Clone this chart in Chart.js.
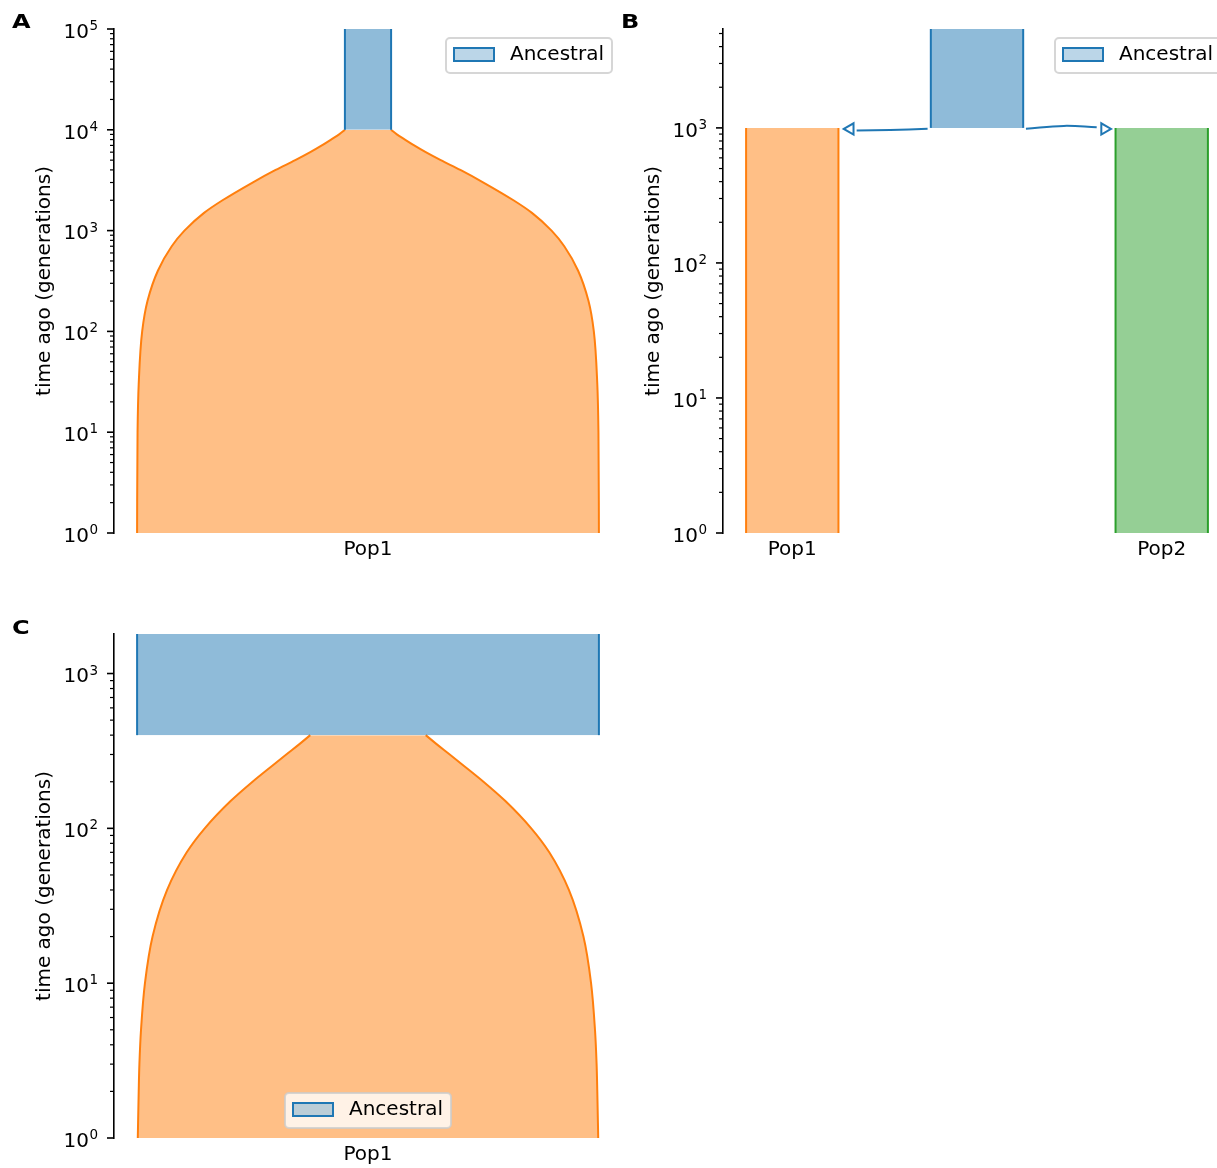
<!DOCTYPE html>
<html>
<head>
<meta charset="utf-8">
<title>Deme histories</title>
<script src="https://cdn.jsdelivr.net/npm/chart.js@4.4.1/dist/chart.umd.min.js"></script>
<style>
  html, body { margin: 0; padding: 0; background: #fff; width: 1217px; height: 1168px; overflow: hidden; }
  canvas.panel { position: absolute; }
  .tag { position: absolute; font: bold 20px 'DejaVu Sans', sans-serif; line-height: 20px; color: #000; transform: scaleX(1.2); transform-origin: left top; }
</style>
</head>
<body>
<canvas id="chartA" class="panel" width="640" height="585" style="left:0;top:0"></canvas>
<canvas id="chartB" class="panel" width="640" height="585" style="left:609px;top:0"></canvas>
<canvas id="chartC" class="panel" width="640" height="578" style="left:0;top:590px"></canvas>
<div class="tag" style="left:12px;top:11px">A</div>
<div class="tag" style="left:621px;top:11px">B</div>
<div class="tag" style="left:12px;top:617px">C</div>
<script>
// ---------- Panel A: one deme growing out of an ancestral population ----------
const timesA      = [1, 10, 30, 100, 200, 400, 700, 1000, 1500, 2000, 3000, 4000, 5000, 6000, 7000, 8000, 9000, 10000];
const pop1SizesA  = [10000, 9980, 9930, 9780, 9550, 9100, 8500, 7950, 7100, 6300, 5000, 4000, 3150, 2500, 2000, 1600, 1250, 1000];
const ancestralA  = { size: 1000, start: 10000, end: 100000 };

// ---------- Panel B: ancestral split into two constant-size demes ----------
const demeNamesB   = ['Pop1', 'Pop2'];
const demeCentersB = [0, 4000];
const demeSizesB   = [1000, 1000];
const demeTimesB   = [1, 1000];
const ancestralB   = { center: 2000, size: 1000, start: 1000, end: 5400 };

// ---------- Panel C: bottleneck then exponential recovery ----------
const timesC      = [1, 2, 3, 5, 10, 20, 40, 70, 100, 150, 200, 250, 300, 350, 400];
const pop1SizesC  = [9970, 9930, 9900, 9830, 9660, 9330, 8700, 7850, 7070, 5950, 5000, 4200, 3540, 2970, 2500];
const ancestralC  = { size: 10000, start: 400, end: 1800 };

const legendLabels = ['Ancestral'];

// ---------- styling ----------
const BLUE = '#1f77b4', ORANGE = '#ff7f0e', GREEN = '#2ca02c';
function rgba(hex, a) {
  const n = parseInt(hex.slice(1), 16);
  return `rgba(${n >> 16},${(n >> 8) & 255},${n & 255},${a})`;
}

Chart.defaults.font.family = "'DejaVu Sans', sans-serif";
Chart.defaults.font.size = 20;
Chart.defaults.color = '#000';

const SUP = { '0': '\u2070', '1': '\u00b9', '2': '\u00b2', '3': '\u00b3', '4': '\u2074', '5': '\u2075', '6': '\u2076', '7': '\u2077', '8': '\u2078', '9': '\u2079', '-': '\u207b' };
function isPow10(v) {
  const e = Math.log10(v);
  return Math.abs(e - Math.round(e)) < 1e-9;
}
function powLabel(v) {
  if (!isPow10(v)) return '';
  return '10' + String(Math.round(Math.log10(v))).split('').map(c => SUP[c]).join('');
}
function logTicks(min, max) {
  const out = [];
  for (let e = Math.floor(Math.log10(min)); e <= Math.ceil(Math.log10(max)); e++) {
    for (let m = 1; m <= 9; m++) {
      const v = m * Math.pow(10, e);
      if (v >= min * (1 - 1e-9) && v <= max * (1 + 1e-9)) out.push(v);
    }
  }
  return out;
}

// Left and right outline of a deme tube; the left one fills across to the right one.
function tube(times, sizes, center, color) {
  const left = times.map((t, i) => ({ x: center - sizes[i] / 2, y: t }));
  const right = times.map((t, i) => ({ x: center + sizes[i] / 2, y: t }));
  const common = { borderColor: color, backgroundColor: rgba(color, 0.5), borderWidth: 2, pointRadius: 0, cubicInterpolationMode: 'monotone' };
  return [
    Object.assign({ data: left, fill: '+1' }, common),
    Object.assign({ data: right, fill: false }, common)
  ];
}
function block(center, size, t0, t1, color) {
  return tube([t0, t1], [size, size], center, color);
}

// Major / minor tick marks on the time axis, with power-of-ten labels
// written as a base and a raised exponent.
const axisTicks = {
  id: 'axisTicks',
  afterDraw(chart) {
    const s = chart.scales.y, ctx = chart.ctx, x0 = chart.chartArea.left;
    ctx.save();
    ctx.strokeStyle = '#000';
    ctx.fillStyle = '#000';
    s.ticks.forEach(t => {
      const major = isPow10(t.value);
      const y = s.getPixelForValue(t.value);
      ctx.lineWidth = major ? 1.6 : 1.2;
      ctx.beginPath();
      ctx.moveTo(x0 - (major ? 7 : 4), y);
      ctx.lineTo(x0, y);
      ctx.stroke();
      if (major) {
        const exp = String(Math.round(Math.log10(t.value)));
        ctx.textBaseline = 'alphabetic';
        ctx.textAlign = 'right';
        ctx.font = "13.5px 'DejaVu Sans', sans-serif";
        const ew = ctx.measureText(exp).width;
        const expRight = x0 - 16;
        ctx.fillText(exp, expRight, y + 1);
        ctx.font = "20px 'DejaVu Sans', sans-serif";
        ctx.fillText('10', expRight - ew - 0.5, y + 8.8);
      }
    });
    ctx.restore();
  }
};

// Legend box for the ancestral deme, placed inside the plot area.
const demeLegend = {
  id: 'demeLegend',
  afterDraw(chart, args, opts) {
    const { ctx, chartArea: a } = chart;
    const w = 166, h = 35;
    let x, y;
    if (opts.loc === 'lower center') { x = (a.left + a.right) / 2 - w / 2; y = a.bottom - 10 - h; }
    else { x = a.right - 10 - w; y = a.top + 9; }
    ctx.save();
    ctx.beginPath();
    ctx.roundRect(x, y, w, h, 4);
    ctx.fillStyle = 'rgba(255,255,255,0.8)';
    ctx.fill();
    ctx.lineWidth = 2;
    ctx.strokeStyle = 'rgba(204,204,204,0.8)';
    ctx.stroke();
    ctx.beginPath();
    ctx.rect(x + 8, y + 10, 40, 13);
    ctx.fillStyle = rgba(opts.color, 0.3);
    ctx.fill();
    ctx.lineWidth = 2;
    ctx.strokeStyle = opts.color;
    ctx.stroke();
    ctx.fillStyle = '#000';
    ctx.font = "20px 'DejaVu Sans', sans-serif";
    ctx.textBaseline = 'middle';
    ctx.textAlign = 'left';
    ctx.fillText(opts.label, x + 64, y + 17);
    ctx.restore();
  }
};

function panel(id, p) {
  return new Chart(document.getElementById(id), {
    type: 'line',
    data: { datasets: p.datasets },
    options: {
      indexAxis: 'y',
      responsive: false,
      animation: false,
      events: [],
      layout: { padding: { left: 0, top: p.top, right: p.canvasW - 622, bottom: 0 } },
      plugins: {
        legend: { display: false },
        tooltip: { enabled: false },
        demeLegend: { loc: p.legendLoc, label: legendLabels[0], color: BLUE }
      },
      scales: {
        x: {
          type: 'linear', min: p.xMin, max: p.xMax,
          grid: { display: false }, border: { display: false },
          afterFit: s => { s.height = p.xAxisH; },
          afterBuildTicks: s => { s.ticks = p.xTicks.map(v => ({ value: v })); },
          ticks: { autoSkip: false, padding: -3, maxRotation: 0, callback: v => { const i = p.xTicks.indexOf(v); return i >= 0 ? p.xLabels[i] : ''; } }
        },
        y: {
          type: 'logarithmic', min: 1, max: p.tMax, position: 'left',
          afterFit: s => { s.width = 114; },
          afterBuildTicks: s => { s.ticks = logTicks(1, p.tMax).map(v => ({ value: v })); },
          ticks: { display: false, autoSkip: false, callback: v => powLabel(v) },
          grid: { display: true, drawOnChartArea: false, drawTicks: false },
          border: { display: true, color: '#000', width: 1.6 },
          title: { display: true, text: 'time ago (generations)', padding: { top: 33, bottom: 0 }, font: { size: 20 } }
        }
      }
    },
    plugins: [axisTicks, demeLegend]
  });
}

// ---------- A ----------
panel('chartA', {
  canvasW: 640, top: 29, xAxisH: 52, xMin: -5500, xMax: 5500, tMax: ancestralA.end,
  xTicks: [0], xLabels: ['Pop1'], legendLoc: 'upper right',
  datasets: [
    ...block(0, ancestralA.size, ancestralA.start, ancestralA.end, BLUE),
    ...tube(timesA, pop1SizesA, 0, ORANGE)
  ]
});

// ---------- B ----------
const splitB = ancestralB.start;
const pop1Right = demeCentersB[0] + demeSizesB[0] / 2;
const pop2Left = demeCentersB[1] - demeSizesB[1] / 2;
const ancLeft = ancestralB.center - ancestralB.size / 2;
const ancRight = ancestralB.center + ancestralB.size / 2;
const arrowStyle = { borderColor: BLUE, borderWidth: 2, pointRadius: 0, fill: false, tension: 0.4 };
panel('chartB', {
  canvasW: 640, top: 29, xAxisH: 52, xMin: -750, xMax: 4750, tMax: ancestralB.end,
  xTicks: demeCentersB, xLabels: demeNamesB, legendLoc: 'upper right',
  datasets: [
    ...block(ancestralB.center, ancestralB.size, ancestralB.start, ancestralB.end, BLUE),
    ...block(demeCentersB[0], demeSizesB[0], demeTimesB[0], demeTimesB[1], ORANGE),
    ...block(demeCentersB[1], demeSizesB[1], demeTimesB[0], demeTimesB[1], GREEN),
    Object.assign({ data: [
      { x: ancLeft - 35, y: splitB * 0.985 },
      { x: (ancLeft + pop1Right) / 2 + 60, y: splitB * 0.965 },
      { x: pop1Right + 197, y: splitB * 0.955 }
    ] }, arrowStyle),
    Object.assign({ data: [
      { x: ancRight + 30, y: splitB * 0.985 },
      { x: (ancRight + pop2Left) / 2 - 60, y: splitB * 1.035 },
      { x: pop2Left - 204, y: splitB * 1.01 }
    ] }, arrowStyle),
    {
      data: [{ x: pop1Right + 128, y: splitB * 0.983 }, { x: pop2Left - 119, y: splitB * 0.983 }],
      showLine: false, pointStyle: 'triangle', pointRadius: 6.5, pointRotation: [-90, 90],
      pointBorderColor: BLUE, pointBackgroundColor: '#fff', pointBorderWidth: 2
    }
  ]
});

// ---------- C ----------
panel('chartC', {
  canvasW: 640, top: 44, xAxisH: 30, xMin: -5500, xMax: 5500, tMax: ancestralC.end,
  xTicks: [0], xLabels: ['Pop1'], legendLoc: 'lower center',
  datasets: [
    ...block(0, ancestralC.size, ancestralC.start, ancestralC.end, BLUE),
    ...tube(timesC, pop1SizesC, 0, ORANGE)
  ]
});
</script>
</body>
</html>
